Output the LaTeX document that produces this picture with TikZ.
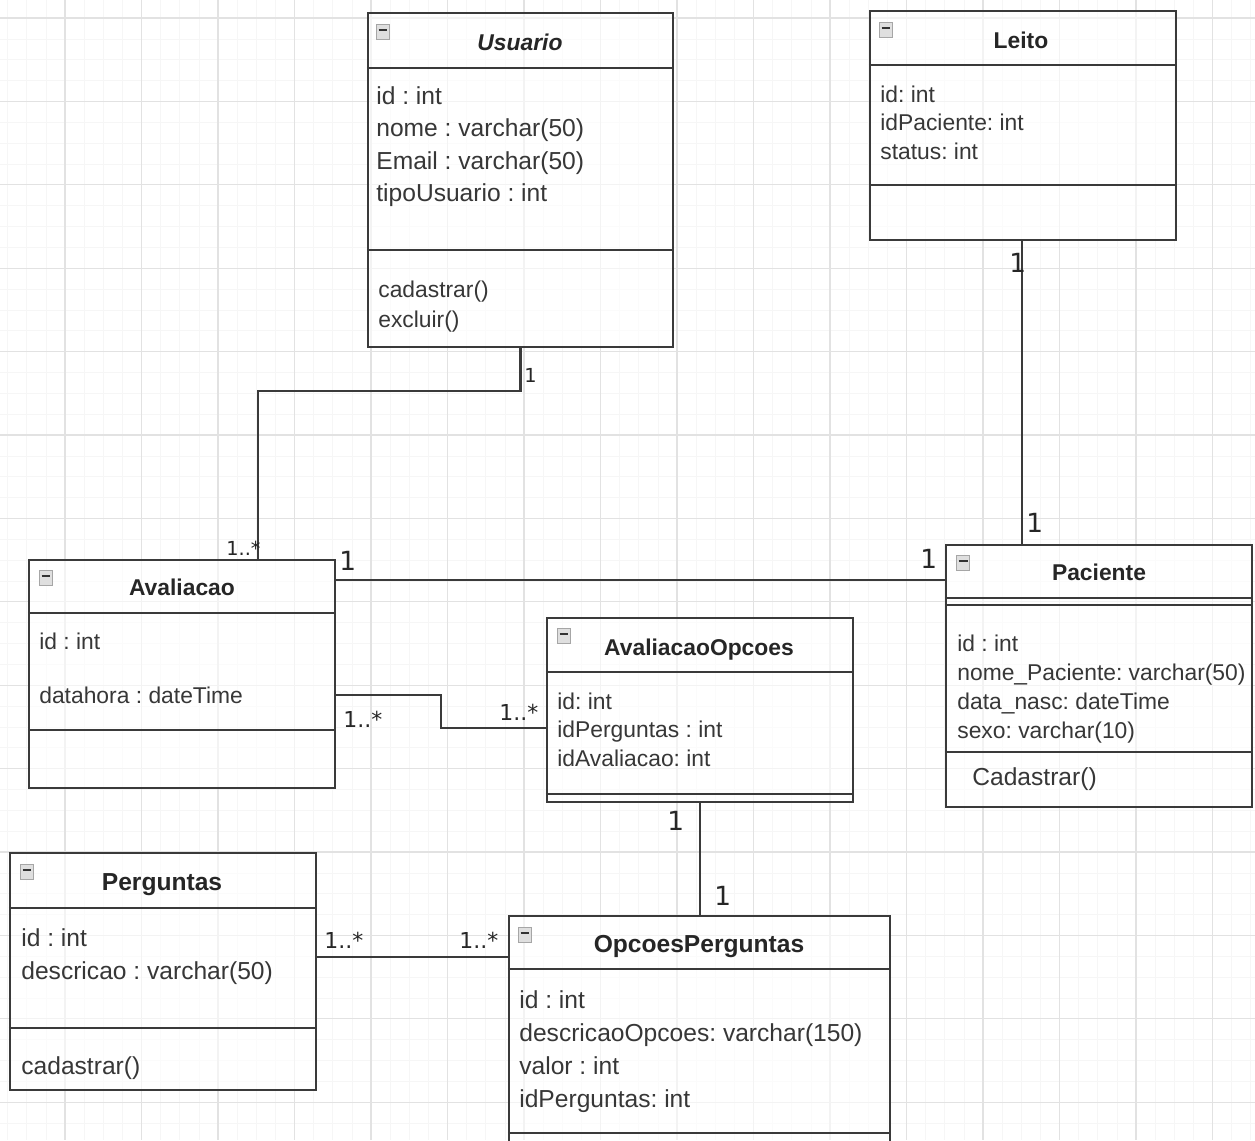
\documentclass[tikz,border=0pt]{standalone}
\usepackage{fontspec}
\setmainfont{Liberation Sans}
\newfontfamily\multfont{DejaVu Sans}
\usepackage{xcolor}
\frenchspacing

\definecolor{gridcol}{RGB}{226,226,226}
\definecolor{minorcol}{RGB}{246,246,246}
\definecolor{linecol}{RGB}{58,58,58}
\definecolor{textcol}{RGB}{55,55,55}

% one text line per node: name, x, first baseline, step, lines
\newcommand{\fields}[6][]{%
  \foreach \txt [count=\i] in {#6}
    \node[field,#1] (#2-\i) at (#3, #4+#5*\i-#5) {\txt};
}

\begin{document}
\begin{tikzpicture}[x=0.02cm, y=-0.02cm,
  classbox/.style={draw=linecol, line width=1.2pt, fill=white, fill opacity=0.6, inner sep=0},
  rowline/.style={draw=linecol, line width=1.2pt},
  conn/.style={draw=linecol, line width=1.2pt},
  gridline/.style={draw=gridcol, line width=0.6pt},
  minorline/.style={draw=minorcol, line width=0.4pt},
  classname/.style={font=\bfseries\fontsize{13}{15}\selectfont, text=black!85, inner sep=0, anchor=base},
  field/.style={font=\fontsize{14}{16}\selectfont, text=textcol, inner sep=0, anchor=base west},
  f13/.style={font=\fontsize{13}{15}\selectfont},
  mult/.style={font=\multfont\fontsize{15}{17}\selectfont, text=black!85, inner sep=0, anchor=base west},
  smallmult/.style={mult, font=\multfont\fontsize{11}{13}\selectfont},
  starmult/.style={mult, font=\multfont\fontsize{12.5}{14}\selectfont},
  icon/.style={draw=gray!70, fill=gray!25, line width=0.5pt, minimum width=0.25cm, minimum height=0.29cm, inner sep=0,
    path picture={\draw[gray!40!black, line width=1.1pt] ([xshift=1pt,yshift=1pt]path picture bounding box.west) -- ([xshift=-1pt,yshift=1pt]path picture bounding box.east);}}]

\clip (0,0) rectangle (1255,1140);
\fill[white] (0,0) rectangle (1255,1140);

% grid
\foreach \gx in {0,...,67} \draw[minorline] (-11.5+19.125*\gx,0) -- ++(0,1140);
\foreach \gy in {0,...,56} \draw[minorline] (0,-2.85+20.85*\gy) -- ++(1255,0);
\foreach \gx in {0,...,16} \draw[gridline] (-11.5+76.5*\gx,0) -- ++(0,1140);
\foreach \gy in {0,...,13} \draw[gridline] (0,18+83.4*\gy) -- ++(1255,0);

% Usuario
\node[classbox, minimum width=6.1cm, minimum height=6.68cm] (usuario) at (520.5,180) {};
\draw[rowline] (usuario.west |- 0,68) -- (usuario.east |- 0,68);
\draw[rowline] (usuario.west |- 0,250) -- (usuario.east |- 0,250);
\node[icon] (usuario-ic) at (383,32) {};
\node[classname, font=\bfseries\itshape\fontsize{13}{15}\selectfont] (usuario-t) at (520,50) {Usuario};
\fields{usuario-a}{376}{104}{32.5}{id : int, nome : varchar(50), Email : varchar(50), tipoUsuario : int}
\fields[f13]{usuario-m}{378}{297}{30}{cadastrar(), excluir()}

% Leito
\node[classbox, minimum width=6.12cm, minimum height=4.58cm] (leito) at (1023,125.5) {};
\draw[rowline] (leito.west |- 0,65) -- (leito.east |- 0,65);
\draw[rowline] (leito.west |- 0,185) -- (leito.east |- 0,185);
\node[icon] (leito-ic) at (886,30) {};
\node[classname] (leito-t) at (1021,48) {Leito};
\fields[f13]{leito-a}{880}{102}{28.7}{id: int, idPaciente: int, status: int}

% Avaliacao
\node[classbox, minimum width=6.12cm, minimum height=4.56cm] (aval) at (182,674) {};
\draw[rowline] (aval.west |- 0,613) -- (aval.east |- 0,613);
\draw[rowline] (aval.west |- 0,730) -- (aval.east |- 0,730);
\node[icon] (aval-ic) at (46,578) {};
\node[classname] (aval-t) at (182,595) {Avaliacao};
\fields[f13]{aval-a}{39}{649}{54}{id : int, datahora : dateTime}

% AvaliacaoOpcoes
\node[classbox, minimum width=6.12cm, minimum height=3.68cm] (avalop) at (700,710) {};
\draw[rowline] (avalop.west |- 0,672) -- (avalop.east |- 0,672);
\draw[rowline] (avalop.west |- 0,794) -- (avalop.east |- 0,794);
\node[icon] (avalop-ic) at (564,636) {};
\node[classname] (avalop-t) at (699,655) {AvaliacaoOpcoes};
\fields[f13]{avalop-a}{557}{709}{28.5}{id: int, idPerguntas : int, idAvaliacao: int}

% Paciente
\node[classbox, minimum width=6.12cm, minimum height=5.24cm] (paciente) at (1099,676) {};
\draw[rowline] (paciente.west |- 0,598) -- (paciente.east |- 0,598);
\draw[rowline] (paciente.west |- 0,605) -- (paciente.east |- 0,605);
\draw[rowline] (paciente.west |- 0,752) -- (paciente.east |- 0,752);
\node[icon] (paciente-ic) at (963,563) {};
\node[classname] (paciente-t) at (1099,580) {Paciente};
\fields[f13]{paciente-a}{957}{651}{29}{id : int, nome\_Paciente: varchar(50), data\_nasc: dateTime, sexo: varchar(10)}
\fields{paciente-m}{972}{785}{30}{Cadastrar()}

% Perguntas
\node[classbox, minimum width=6.12cm, minimum height=4.74cm] (perguntas) at (163,971.5) {};
\draw[rowline] (perguntas.west |- 0,908) -- (perguntas.east |- 0,908);
\draw[rowline] (perguntas.west |- 0,1028) -- (perguntas.east |- 0,1028);
\node[icon] (perguntas-ic) at (27,872) {};
\node[classname, font=\bfseries\fontsize{14}{16}\selectfont] (perguntas-t) at (162,890) {Perguntas};
\fields{perguntas-a}{21}{946}{33}{id : int, descricao : varchar(50)}
\fields{perguntas-m}{21}{1074}{33}{cadastrar()}

% OpcoesPerguntas
\node[classbox, minimum width=7.62cm, minimum height=4.88cm] (opcoes) at (699.5,1038) {};
\draw[rowline] (opcoes.west |- 0,969) -- (opcoes.east |- 0,969);
\draw[rowline] (opcoes.west |- 0,1133) -- (opcoes.east |- 0,1133);
\node[icon] (opcoes-ic) at (525,935) {};
\node[classname, font=\bfseries\fontsize{14}{16}\selectfont] (opcoes-t) at (699,952) {OpcoesPerguntas};
\fields{opcoes-a}{519}{1008}{33}{id : int, descricaoOpcoes: varchar(150), valor : int, idPerguntas: int}

% associations
\draw[conn] (usuario.south) -- ++(0,43) -| (aval.north -| 258,0);
\draw[conn] (leito.south -| 1022,0) -- (paciente.north -| 1022,0);
\draw[conn] (aval.east |- 0,580) -- (paciente.west |- 0,580);
\draw[conn] (aval.east |- 0,695) -- ++(105,0) |- (avalop.west |- 0,728);
\draw[conn] (avalop.south) -- (opcoes.north -| avalop.south);
\draw[conn] (perguntas.east |- 0,957) -- (opcoes.west |- 0,957);

% multiplicities
\node[smallmult] (m-us) at (524,382) {1};
\node[smallmult] (m-av1) at (226,555) {1..*};
\node[mult] (m-av2) at (339,570) {1};
\node[mult] (m-pa1) at (920,568) {1};
\node[mult] (m-le) at (1009,272) {1};
\node[mult] (m-pa2) at (1026,532) {1};
\node[starmult] (m-av3) at (343,727) {1..*};
\node[starmult] (m-ao1) at (499,720) {1..*};
\node[mult] (m-ao2) at (667,830) {1};
\node[mult] (m-op1) at (714,905) {1};
\node[starmult] (m-pe) at (324,948) {1..*};
\node[starmult] (m-op2) at (459,948) {1..*};
\end{tikzpicture}
\end{document}
